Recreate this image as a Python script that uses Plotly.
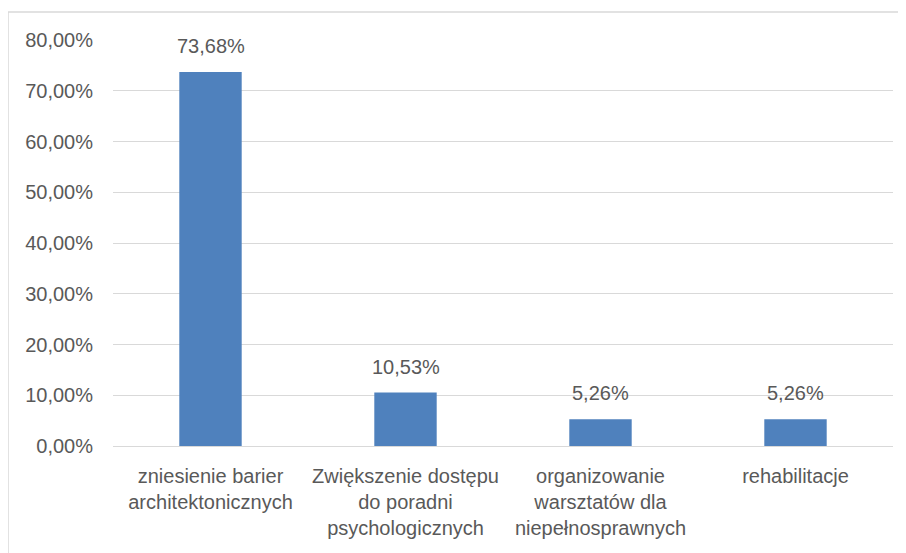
import plotly.graph_objects as go

categories = [
    "zniesienie barier<br>architektonicznych",
    "Zwiększenie dostępu<br>do poradni<br>psychologicznych",
    "organizowanie<br>warsztatów dla<br>niepełnosprawnych",
    "rehabilitacje",
]
values = [73.68, 10.53, 5.26, 5.26]
tick_vals = [0, 10, 20, 30, 40, 50, 60, 70, 80]
tick_text = [f"{v:.2f}".replace(".", ",") + "%" for v in tick_vals]

FONT = "Liberation Sans"
TXT = "#595959"
FS = 20

fig = go.Figure()
fig.add_trace(go.Bar(
    x=categories, y=values,
    marker=dict(color="#4F81BD", line=dict(width=0)),
    width=0.32,
    hoverinfo="skip",
))

for c, v in zip(categories, values):
    fig.add_annotation(
        x=c, y=v, text=f"{v:.2f}".replace(".", ",") + "%",
        showarrow=False, yanchor="bottom", yshift=13,
        font=dict(family=FONT, size=FS, color=TXT),
    )

# page body has an 8px margin; compensate
W, H = 898, 545
L, R, T, B = 105, 13, 32, 106.5
PW = W - L - R
PH = H - T - B

fig.update_layout(
    width=W, height=H,
    margin=dict(l=L, r=R, t=T, b=B),
    paper_bgcolor="white", plot_bgcolor="white",
    showlegend=False,
    bargap=0.68,
    font=dict(family=FONT, size=FS, color=TXT),
    xaxis=dict(
        showgrid=False, showline=True, linecolor="#D9D9D9", linewidth=1,
        ticks="", tickfont=dict(family=FONT, size=FS, color=TXT),
        ticklabelstandoff=12,
    ),
    yaxis=dict(
        range=[0, 80], tickvals=tick_vals, ticktext=tick_text,
        showgrid=True, gridcolor="#D9D9D9", gridwidth=1,
        zeroline=False, showline=False, ticks="",
        tickfont=dict(family=FONT, size=FS, color=TXT),
        ticklabelstandoff=19,
    ),
    shapes=[
        dict(type="rect", xref="paper", yref="paper",
             x0=(0 - L) / PW, x1=1.2, y0=-0.5, y1=(PH + T - 4) / PH,
             line=dict(color="#D9D9D9", width=1.5), fillcolor="rgba(0,0,0,0)",
             layer="below"),
    ],
)

fig.write_html("out.html")
